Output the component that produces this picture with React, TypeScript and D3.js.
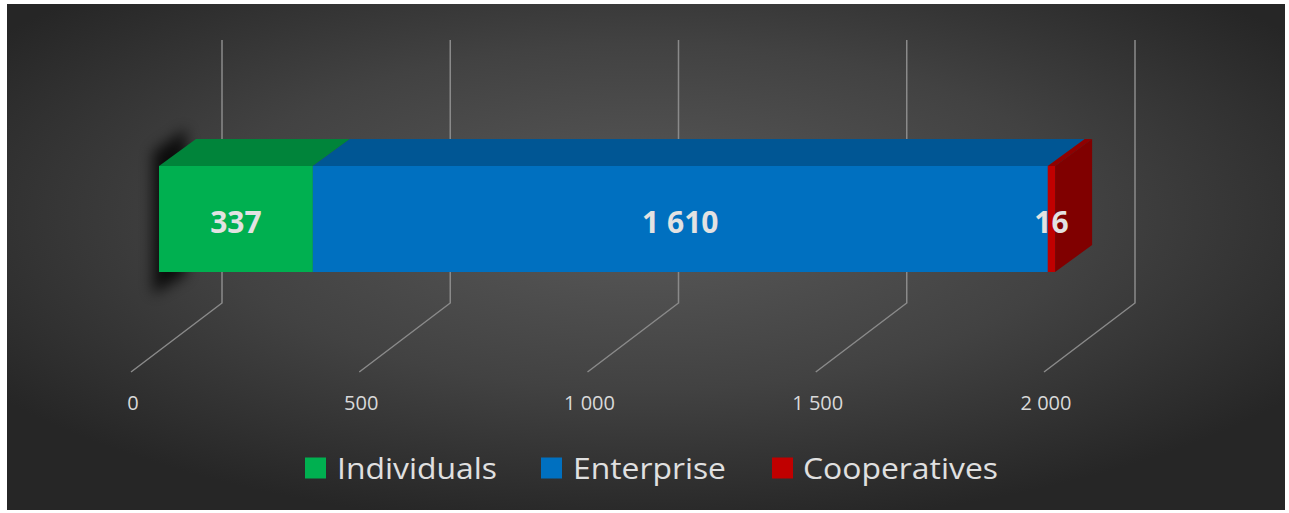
import React from "react";
import * as d3 from "d3";

const categories = ["Individuals", "Enterprise", "Cooperatives"];
const values = [337, 1610, 16];
const colorsFront = ["#00b050", "#0070c0", "#c00000"];
const colorsTop = ["#00843a", "#005694", "#900000"];
const colorsSide = ["#006b2e", "#004878", "#800000"];
const ticks = [0, 500, 1000, 1500, 2000];

const W = 1289;
const H = 513;

const locale = d3.formatLocale({ decimal: ",", thousands: "\u00a0", grouping: [3], currency: ["", ""] });
const fmt = locale.format(",d");

export default function App() {
  const xs = d3.scaleLinear().domain([0, 2000]).range([0, 913]);
  const backX0 = 222;
  const backTop = 40;
  const backBottom = 303;
  const depthDX = -91;
  const depthDY = 69;
  const barX0 = 159;
  const barTop = 166;
  const barBottom = 272;
  const bdx = 37;
  const bdy = -27;

  let acc = 0;
  const segs = values.map((v, i) => {
    const s = acc;
    acc += v;
    return { i, v, x0: barX0 + xs(s), x1: barX0 + xs(acc) };
  });
  const last = segs[segs.length - 1];

  const font = "'Open Sans', 'Noto Sans', sans-serif";
  const legendItems = [
    { x: 305, tx: 337, w: 160 },
    { x: 541, tx: 573, w: 153 },
    { x: 772, tx: 803, w: 195 },
  ];

  return (
    <svg width={W} height={H} style={{ position: "absolute", left: 0, top: 0 }}>
      <defs>
        <radialGradient id="bg" cx="0.5" cy="0.42" r="0.62">
          <stop offset="0" stopColor="#5a5a5a" />
          <stop offset="0.55" stopColor="#424242" />
          <stop offset="1" stopColor="#262626" />
        </radialGradient>
        <filter id="blur" x="-2" y="-1" width="5" height="3">
          <feGaussianBlur stdDeviation="7" />
        </filter>
      </defs>
      <rect x={0} y={0} width={W} height={H} fill="#ffffff" />
      <rect x={7} y={4} width={1278} height={506} fill="url(#bg)" />

      {ticks.map((t) => {
        const bx = backX0 + xs(t);
        return (
          <g key={t}>
            <polyline
              points={`${bx},${backTop} ${bx},${backBottom} ${bx + depthDX},${backBottom + depthDY}`}
              fill="none"
              stroke="#8a8a8a"
              strokeWidth={1.5}
            />
            <text
              x={bx + depthDX + 2}
              y={410}
              textAnchor="middle"
              fontFamily={font}
              fontSize={20}
              fill="#d9d9d9"
            >
              {fmt(t)}
            </text>
          </g>
        );
      })}

      <polygon
        points={`${barX0 - 6},${barTop - 14} ${barX0 + bdx - 10},${barTop + bdy - 10} ${barX0 + bdx - 10},${barBottom + bdy + 30} ${barX0 - 6},${barBottom + 22}`}
        fill="#000"
        opacity={0.8}
        filter="url(#blur)"
      />

      {segs.map((s) => (
        <polygon
          key={"top" + s.i}
          points={`${s.x0},${barTop} ${s.x0 + bdx},${barTop + bdy} ${s.x1 + bdx},${barTop + bdy} ${s.x1},${barTop}`}
          fill={colorsTop[s.i]}
        />
      ))}
      {segs.map((s) => (
        <rect
          key={"front" + s.i}
          x={s.x0}
          y={barTop}
          width={s.x1 - s.x0}
          height={barBottom - barTop}
          fill={colorsFront[s.i]}
        />
      ))}
      <polygon
        points={`${last.x1},${barTop} ${last.x1 + bdx},${barTop + bdy} ${last.x1 + bdx},${barBottom + bdy} ${last.x1},${barBottom}`}
        fill={colorsSide[last.i]}
      />

      {segs.map((s) => (
        <text
          key={"lab" + s.i}
          x={(s.x0 + s.x1) / 2}
          y={232.5}
          textAnchor="middle"
          fontFamily={font}
          fontWeight={700}
          fontSize={30}
          fill="#e2e2e2"
        >
          {fmt(s.v)}
        </text>
      ))}

      {categories.map((c, i) => (
        <g key={c}>
          <rect x={legendItems[i].x} y={457.5} width={21} height={21} fill={colorsFront[i]} />
          <text
            x={legendItems[i].tx}
            y={478.5}
            fontFamily={font}
            fontSize={30}
            fill="#e0e0e0"
            textLength={legendItems[i].w}
            lengthAdjust="spacingAndGlyphs"
          >
            {c}
          </text>
        </g>
      ))}
    </svg>
  );
}
